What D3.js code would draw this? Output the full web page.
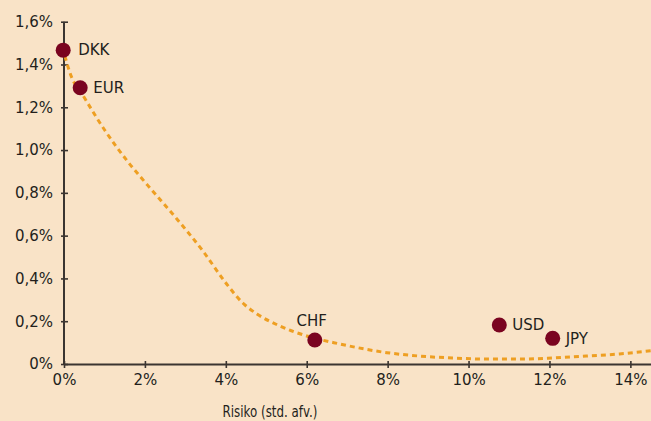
<!DOCTYPE html>
<html>
<head>
<meta charset="utf-8">
<script src="https://cdn.jsdelivr.net/npm/d3@7"></script>
<style>
html,body{margin:0;padding:0;background:#F9E3C7;}
svg{display:block;}
text{font-family:"DejaVu Sans",sans-serif;fill:#231f1c;}
</style>
</head>
<body>
<svg id="chart" width="651" height="421"></svg>
<script>
// Currencies (points)
const currencies = ["DKK", "EUR", "CHF", "USD", "JPY"];
const risk = [-0.02, 0.40, 6.20, 10.76, 12.08];      // x, % std. dev.
const returns = [1.467, 1.291, 0.112, 0.182, 0.120]; // y, %

// Efficient frontier (dashed curve)
const frontierRisk = [0.02, 0.15, 0.52, 1.0, 1.56, 2.07, 2.79, 3.43, 4.02, 4.42, 4.77, 5.33, 6.0, 6.81, 7.98, 8.79, 9.6, 10.44, 11.26, 12.07, 12.91, 13.73, 14.51];
const frontierReturn = [1.44, 1.36, 1.24, 1.095, 0.95, 0.835, 0.678, 0.529, 0.374, 0.285, 0.234, 0.178, 0.131, 0.094, 0.053, 0.037, 0.028, 0.023, 0.023, 0.028, 0.037, 0.047, 0.062];

const xTicks = [0, 2, 4, 6, 8, 10, 12, 14];
const yTicks = [0, 0.2, 0.4, 0.6, 0.8, 1.0, 1.2, 1.4, 1.6];
const xTitle = "Risiko (std. afv.)";

const svg = d3.select("#chart");
const x = d3.scaleLinear().domain([0, 14.51]).range([64, 651]);
const y = d3.scaleLinear().domain([0, 1.6]).range([364, 21.7]);
const fmt = v => (v === 0 ? "0" : d3.format(".1f")(v).replace(".", ",")) + "%";
const fmtX = v => v + "%";

const axisColor = "#3b3531";

// Y axis
const yAxis = svg.append("g").attr("transform", `translate(${x(0)},0)`)
  .call(d3.axisLeft(y).tickValues(yTicks).tickFormat(fmt).tickSizeInner(3).tickSizeOuter(0).tickPadding(8));
yAxis.selectAll(".tick line").attr("x2", 4).attr("x1", -3);
// X axis
const xAxis = svg.append("g").attr("transform", `translate(0,${y(0)})`)
  .call(d3.axisBottom(x).tickValues(xTicks).tickFormat(fmtX).tickSizeInner(4).tickSizeOuter(0).tickPadding(6));
xAxis.selectAll(".tick line").attr("y1", -3).attr("y2", 4);

[yAxis, xAxis].forEach(g => {
  g.select(".domain").attr("stroke", axisColor).attr("stroke-width", 2);
  g.selectAll(".tick line").attr("stroke", axisColor).attr("stroke-width", 1.6);
  g.selectAll(".tick text").style("font-family", "DejaVu Sans").style("font-size", "15px").attr("fill", "#231f1c");
});
yAxis.select(".domain").attr("d", `M0,${y(0)}V${y(1.6)}`);

svg.append("text").attr("x", 270).attr("y", 417).attr("text-anchor", "middle")
  .attr("textLength", 95).attr("lengthAdjust", "spacingAndGlyphs")
  .style("font-size", "15px").text(xTitle);

// Frontier curve
const frontier = frontierRisk.map((v, i) => [v, frontierReturn[i]]);
svg.append("path").datum(frontier)
  .attr("d", d3.line().x(d => x(d[0])).y(d => y(d[1])).curve(d3.curveMonotoneX))
  .attr("fill", "none").attr("stroke", "#EE9F22").attr("stroke-width", 3)
  .attr("stroke-dasharray", "5,4");

// Points
const pts = currencies.map((c, i) => ({c, x: risk[i], y: returns[i]}));
svg.selectAll("circle.pt").data(pts).enter().append("circle")
  .attr("class", "pt").attr("cx", d => x(d.x)).attr("cy", d => y(d.y)).attr("r", 7.5)
  .attr("fill", "#7A0420");

svg.selectAll("text.lbl").data(pts).enter().append("text")
  .attr("class", "lbl")
  .attr("x", d => d.c === "CHF" ? x(d.x) - 3 : x(d.x) + (d.c === "DKK" ? 15 : 13))
  .attr("y", d => d.c === "CHF" ? y(d.y) - 14 : y(d.y))
  .attr("dy", d => d.c === "CHF" ? 0 : "0.35em")
  .attr("text-anchor", d => d.c === "CHF" ? "middle" : "start")
  .style("font-size", "15px")
  .text(d => d.c);
</script>
</body>
</html>
